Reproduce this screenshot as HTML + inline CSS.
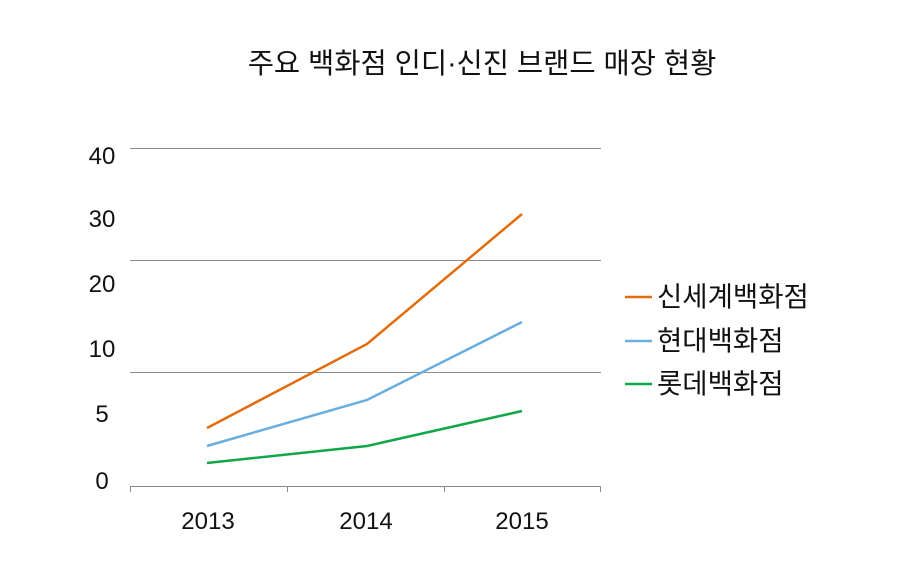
<!DOCTYPE html>
<html><head><meta charset="utf-8"><style>
html,body{margin:0;padding:0;background:#fff;}
svg{display:block;}
text{font-family:"Liberation Sans","Noto Sans CJK KR",sans-serif;fill:#111;}
</style></head><body>
<svg width="900" height="576" viewBox="0 0 900 576" xmlns="http://www.w3.org/2000/svg">
<text x="482" y="73" font-size="28.5" text-anchor="middle">주요 백화점 인디·신진 브랜드 매장 현황</text>
<g stroke="#8c8c8c" stroke-width="1">
<line x1="130" y1="148.5" x2="601" y2="148.5"/>
<line x1="130" y1="260.5" x2="601" y2="260.5"/>
<line x1="130" y1="372.5" x2="601" y2="372.5"/>
<line x1="130" y1="486.5" x2="601" y2="486.5"/>
<line x1="130.5" y1="486" x2="130.5" y2="492"/>
<line x1="287.5" y1="486" x2="287.5" y2="492"/>
<line x1="444.5" y1="486" x2="444.5" y2="492"/>
<line x1="600.5" y1="486" x2="600.5" y2="492"/>
</g>
<g font-size="24" text-anchor="middle">
<text x="102" y="164">40</text>
<text x="102" y="227">30</text>
<text x="102" y="292">20</text>
<text x="102" y="357">10</text>
<text x="102" y="422">5</text>
<text x="102" y="489">0</text>
<text x="208" y="529">2013</text>
<text x="366" y="529">2014</text>
<text x="522" y="529">2015</text>
</g>
<g fill="none" stroke-width="2.5">
<polyline stroke="#e36c0a" points="207,428 367,344 522,214"/>
<polyline stroke="#6aaee0" points="207,446 367,400 522,322"/>
<polyline stroke="#12a64a" points="207,463 367,446 522,411"/>
<line stroke="#e36c0a" x1="625" y1="297" x2="652" y2="297"/>
<line stroke="#6aaee0" x1="625" y1="341" x2="652" y2="341"/>
<line stroke="#12a64a" x1="625" y1="384" x2="652" y2="384"/>
</g>
<g font-size="27.5">
<text x="657" y="306">신세계백화점</text>
<text x="657" y="350">현대백화점</text>
<text x="657" y="393">롯데백화점</text>
</g>
</svg>
</body></html>
